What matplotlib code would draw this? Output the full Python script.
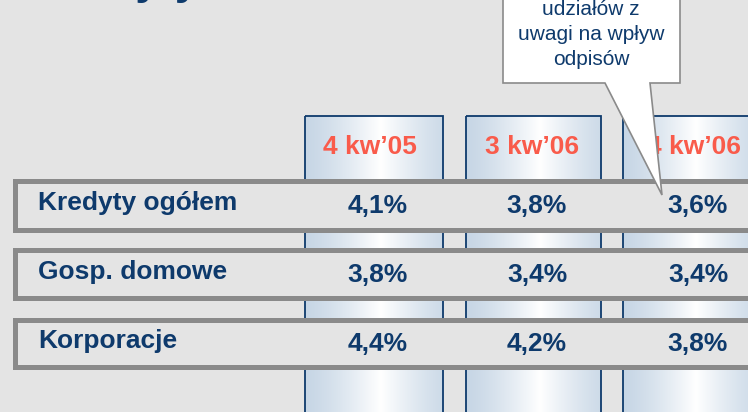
import numpy as np
import matplotlib
matplotlib.use("Agg")
import matplotlib.pyplot as plt
from matplotlib.patches import Rectangle, Polygon

plt.rcParams['font.family'] = ['Liberation Sans', 'DejaVu Sans']

# data
periods = ['4 kw\u201905', '3 kw\u201906', '4 kw\u201906']
categories = ['Kredyty ogółem', 'Gosp. domowe', 'Korporacje']
values = [
    ['4,1%', '3,8%', '3,6%'],
    ['3,8%', '3,4%', '3,4%'],
    ['4,4%', '4,2%', '3,8%'],
]
note_lines = ['udziałów z', 'uwagi na wpływ', 'odpisów']
title = 'Kredyty'

navy = '#0e3a6c'
red = '#f95b4b'
bg = '#e4e4e4'
grey = '#8a8a8a'

W, H = 748, 412
fig = plt.figure(figsize=(W / 100, H / 100), dpi=100)
fig.patch.set_facecolor(bg)
ax = fig.add_axes([0, 0, 1, 1])
ax.axis('off')
ax.set_facecolor(bg)

# column boxes (left, right) with gradient fill
col_x = [(305, 443), (466, 601), (623, 755)]
col_top = 116
t = np.linspace(0, 1, 200)
edge = np.array([0.78, 0.84, 0.90])
white = np.array([1.0, 1.0, 1.0])
w = np.clip(1 - np.abs(t - 0.55) / 0.55, 0, 1) ** 1.3
grad = edge[None, :] * (1 - w[:, None]) + white[None, :] * w[:, None]
grad = grad[None, :, :]
for (x0, x1) in col_x:
    ax.imshow(grad, extent=(x0, x1, H + 5, col_top), aspect='auto', zorder=1)
    ax.add_patch(Rectangle((x0, col_top), x1 - x0, H + 20 - col_top,
                           fill=False, edgecolor=navy, lw=1.3, zorder=2))
ax.set_xlim(0, W)
ax.set_ylim(H, 0)

col_cx = [370, 532, 694]
for i, p in enumerate(periods):
    ax.text(col_cx[i], 147, p, color=red, fontsize=19, fontweight='bold',
            ha='center', va='center', zorder=3)

# row bands
row_y = [(180.5, 229.5), (249.5, 297.5), (319.5, 366.5)]
val_cx = [378, 537, 698]
for r, (y0, y1) in enumerate(row_y):
    ax.add_patch(Rectangle((15.5, y0), 800, y1 - y0, facecolor=bg,
                           edgecolor=grey, lw=3.6, zorder=4))
    yc = (y0 + y1) / 2
    ax.text(38, yc - 2, categories[r], color=navy, fontsize=19,
            fontweight='bold', ha='left', va='center', zorder=5)
    for c in range(3):
        ax.text(val_cx[c], yc + 1, values[r][c], color=navy, fontsize=19,
                fontweight='bold', ha='center', va='center', zorder=5)

# callout
callout = Polygon([(503, -10), (680, -10), (680, 83), (650, 83), (662, 195),
                   (605, 83), (503, 83)], closed=True, facecolor='white',
                  edgecolor=grey, lw=1.2, zorder=6)
ax.add_patch(callout)
for k, line in enumerate(note_lines):
    ax.text(591, 15 + 25 * k, line, color=navy, fontsize=15,
            ha='center', va='baseline', zorder=7)

# title (mostly above the visible area, only descenders show)
ax.text(34, -6, title, color=navy, fontsize=32, fontweight='bold',
        ha='left', va='baseline', zorder=7, clip_on=False)

fig.savefig('out.png', dpi=100, facecolor=bg)
